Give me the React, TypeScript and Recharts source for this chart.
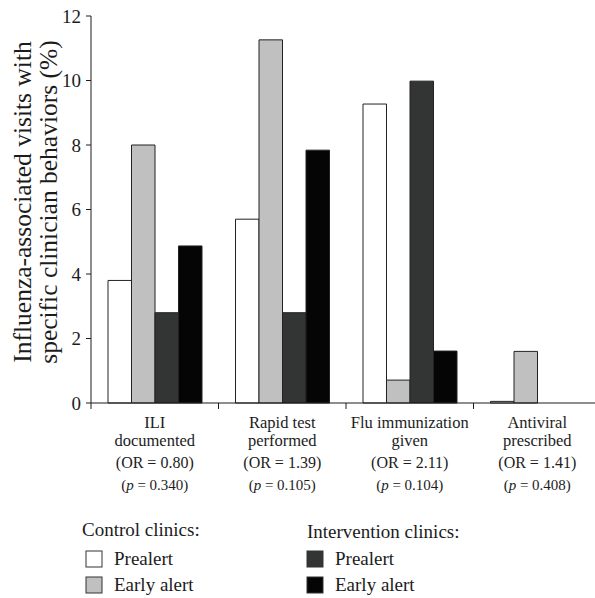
import React from "react";
import { Bar, BarChart, XAxis, YAxis } from "recharts";

const behaviors = ["ILI documented", "Rapid test performed", "Flu immunization given", "Antiviral prescribed"];
const labelLines = [
  ["ILI", "documented"],
  ["Rapid test", "performed"],
  ["Flu immunization", "given"],
  ["Antiviral", "prescribed"]
];
const oddsRatios = ["0.80", "1.39", "2.11", "1.41"];
const pValues = ["0.340", "0.105", "0.104", "0.408"];

const controlPrealert = [3.8, 5.7, 9.27, 0.05];
const controlEarly = [8.0, 11.26, 0.71, 1.6];
const interventionPrealert = [2.8, 2.8, 9.98, 0];
const interventionEarly = [4.87, 7.84, 1.61, 0];

const yTicks = [0, 2, 4, 6, 8, 10, 12];

const series = [
  { key: "cPre", name: "Prealert", fill: "#ffffff", values: controlPrealert },
  { key: "cEarly", name: "Early alert", fill: "#c0c0c0", values: controlEarly },
  { key: "iPre", name: "Prealert", fill: "#333535", values: interventionPrealert },
  { key: "iEarly", name: "Early alert", fill: "#050505", values: interventionEarly }
];

const data = behaviors.map((b, i) => ({
  behavior: b,
  cPre: controlPrealert[i],
  cEarly: controlEarly[i],
  iPre: interventionPrealert[i],
  iEarly: interventionEarly[i]
}));

const FONT = "'Liberation Serif', 'DejaVu Serif', serif";
const INK = "#1c1c1c";
const BAND = 127.5;

function CategoryTick(props: any) {
  const { x, y, index } = props;
  const lines = labelLines[index];
  const left = x - BAND / 2;
  return (
    <g>
      <line x1={left} x2={left} y1={403} y2={409} stroke={INK} strokeWidth={1} />
      <text x={x} y={y} textAnchor="middle" fontFamily={FONT} fill={INK}>
        <tspan x={x} dy={17} fontSize={16.5}>{lines[0]}</tspan>
        <tspan x={x} dy={18} fontSize={16.5}>{lines[1]}</tspan>
        <tspan x={x} dy={22} fontSize={16}>(OR = {oddsRatios[index]})</tspan>
        <tspan x={x} dy={22} fontSize={15}>
          (<tspan fontStyle="italic">p</tspan> = {pValues[index]})
        </tspan>
      </text>
    </g>
  );
}

function YLabel() {
  return (
    <g fontFamily={FONT} fontSize={25.5} fill={INK}>
      <text x={31} y={202} textAnchor="middle" transform="rotate(-90 31 202)">Influenza-associated visits with</text>
      <text x={57} y={202} textAnchor="middle" transform="rotate(-90 57 202)">specific clinician behaviors (%)</text>
    </g>
  );
}

function LegendBox({ x, y, fill, label }: { x: number; y: number; fill: string; label: string }) {
  return (
    <g>
      <rect x={x} y={y} width={16} height={16} fill={fill} stroke="#333" strokeWidth={1} />
      <text x={x + 28} y={y + 14} fontFamily={FONT} fontSize={19} fill={INK}>{label}</text>
    </g>
  );
}

export default function App() {
  return (
    <div style={{ position: "absolute", left: 0, top: 0, width: 595, height: 598, overflow: "hidden", background: "#fff" }}>
      <BarChart
        width={601}
        height={598}
        data={data}
        margin={{ top: 16, right: 0, left: 0, bottom: 0 }}
        barGap={0}
        barSize={23.5}
      >
        <XAxis
          dataKey="behavior"
          height={195}
          tick={<CategoryTick />}
          tickLine={false}
          axisLine={{ stroke: INK }}
          interval={0}
        />
        <YAxis
          width={91}
          domain={[0, 12]}
          ticks={yTicks}
          tickSize={5}
          tickMargin={5}
          axisLine={{ stroke: INK }}
          tickLine={{ stroke: INK }}
          tick={{ fontFamily: FONT, fontSize: 19, fill: INK }}
          label={<YLabel />}
        />
        {series.map((s) => (
          <Bar key={s.key} dataKey={s.key} fill={s.fill} stroke="#222" strokeWidth={1} isAnimationActive={false} />
        ))}
      </BarChart>
      <svg width={595} height={598} style={{ position: "absolute", left: 0, top: 0, pointerEvents: "none" }}>
        <text x={82} y={536} fontFamily={FONT} fontSize={19} fill={INK}>Control clinics:</text>
        <LegendBox x={86} y={551} fill={series[0].fill} label={series[0].name} />
        <LegendBox x={86} y={577} fill={series[1].fill} label={series[1].name} />
        <text x={307} y={538} fontFamily={FONT} fontSize={19} fill={INK}>Intervention clinics:</text>
        <LegendBox x={307} y={551} fill={series[2].fill} label={series[2].name} />
        <LegendBox x={307} y={577} fill={series[3].fill} label={series[3].name} />
      </svg>
    </div>
  );
}
